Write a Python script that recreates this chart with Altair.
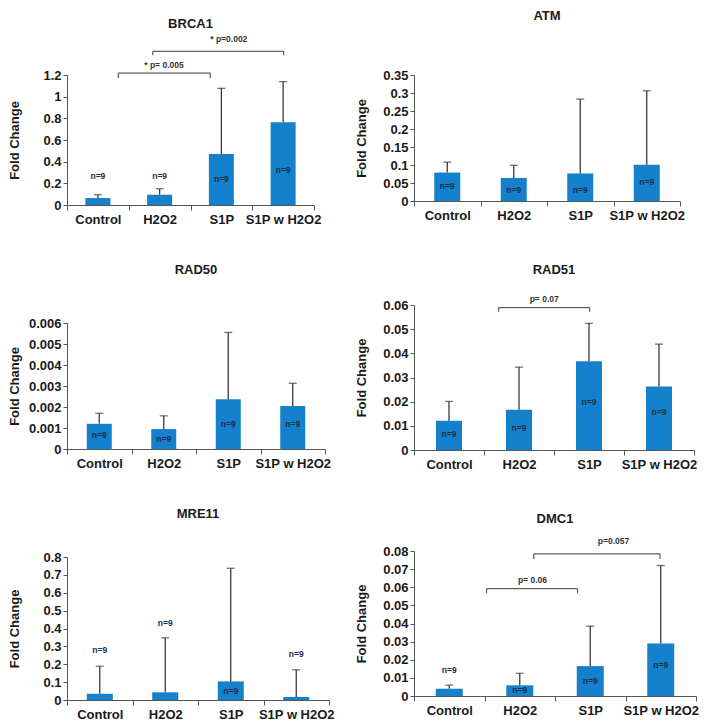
import altair as alt
import pandas as pd

categories = ["Control", "H2O2", "S1P", "S1P w H2O2"]
n_labels = ["n=9", "n=9", "n=9", "n=9"]

# ---- BRCA1
brca1_mean = [0.064, 0.095, 0.47, 0.764]
brca1_upper = [0.095, 0.15, 1.077, 1.139]
brca1_n_y = [0.267, 0.267, 0.237, 0.325]
brca1_ticks = [0, 0.2, 0.4, 0.6, 0.8, 1, 1.2]
brca1_br_start = [0.83, 1.39]
brca1_br_end = [2.32, 3.51]
brca1_br_level = [1.218, 1.419]
brca1_br_leg = [1.172, 1.382]
brca1_p_x = [1.57, 2.62]
brca1_p_y = [1.29, 1.535]
brca1_p_text = ["* p= 0.005", "* p=0.002"]

# ---- ATM
atm_mean = [0.079, 0.064, 0.0765, 0.101]
atm_upper = [0.108, 0.099, 0.283, 0.306]
atm_n_y = [0.042, 0.031, 0.031, 0.053]
atm_ticks = [0, 0.05, 0.1, 0.15, 0.2, 0.25, 0.3, 0.35]

# ---- RAD50
rad50_mean = [0.0012, 0.00095, 0.00237, 0.00205]
rad50_upper = [0.0017, 0.00158, 0.00555, 0.00313]
rad50_n_y = [0.00068, 0.00047, 0.00118, 0.00118]
rad50_ticks = [0, 0.001, 0.002, 0.003, 0.004, 0.005, 0.006]

# ---- RAD51
rad51_mean = [0.0121, 0.0167, 0.0367, 0.0263]
rad51_upper = [0.0201, 0.0343, 0.0524, 0.0438]
rad51_n_y = [0.0068, 0.0093, 0.0197, 0.0156]
rad51_ticks = [0, 0.01, 0.02, 0.03, 0.04, 0.05, 0.06]
rad51_br_start = [1.21]
rad51_br_end = [2.51]
rad51_br_level = [0.0589]
rad51_br_leg = [0.0572]
rad51_p_x = [1.86]
rad51_p_y = [0.0624]
rad51_p_text = ["p= 0.07"]

# ---- MRE11
mre11_mean = [0.035, 0.043, 0.104, 0.017]
mre11_upper = [0.189, 0.348, 0.737, 0.169]
mre11_n_y = [0.281, 0.431, 0.052, 0.259]
mre11_ticks = [0, 0.1, 0.2, 0.3, 0.4, 0.5, 0.6, 0.7, 0.8]

# ---- DMC1
dmc1_mean = [0.004, 0.0059, 0.0165, 0.029]
dmc1_upper = [0.006, 0.0125, 0.0385, 0.072]
dmc1_n_y = [0.0143, 0.0033, 0.0082, 0.017]
dmc1_ticks = [0, 0.01, 0.02, 0.03, 0.04, 0.05, 0.06, 0.07, 0.08]
dmc1_br_start = [1.03, 1.70]
dmc1_br_end = [2.32, 3.49]
dmc1_br_level = [0.0592, 0.0784]
dmc1_br_leg = [0.0568, 0.0756]
dmc1_p_x = [1.68, 2.83]
dmc1_p_y = [0.0641, 0.0855]
dmc1_p_text = ["p= 0.06", "p=0.057"]

BLUE = "#1580CC"
DARK = "#1a1a1a"
LINE = "#3a3a3a"
AXIS = "#555555"


def panel(gene, mean, upper, n_y, ticks, width, height, bar_size, title_offset,
          br_start=None, br_end=None, br_level=None, br_leg=None,
          p_x=None, p_y=None, p_text=None):
    df = pd.DataFrame({"group": categories, "mean": mean, "upper": upper,
                       "n_y": n_y, "n": n_labels})
    dom = [ticks[0], ticks[-1]]
    yaxis = alt.Axis(values=ticks, format="~g", title="Fold Change",
                     titleFontSize=13, titleFontWeight="bold", titleColor=DARK,
                     titlePadding=4, labelFontSize=13, labelFontWeight="bold",
                     labelColor=DARK, labelPadding=2, tickSize=4, grid=False,
                     minExtent=42, maxExtent=42, domainColor=AXIS, tickColor=AXIS)
    yscale = alt.Scale(domain=dom, nice=False, zero=True)

    def Y(f):
        return alt.Y(f"{f}:Q", scale=yscale, axis=yaxis)

    xaxis = alt.Axis(title=None, labelAngle=0, tickBand="extent", tickSize=5,
                     labelFontSize=13, labelFontWeight="bold", labelColor=DARK,
                     labelPadding=3, domainColor=AXIS, tickColor=AXIS,
                     labelOverlap=False, grid=False)
    X = alt.X("group:N", sort=categories,
              scale=alt.Scale(paddingInner=0, paddingOuter=0), axis=xaxis)

    base = alt.Chart(df)
    bars = base.mark_bar(size=bar_size, color=BLUE).encode(x=X, y=Y("mean"))
    err = base.mark_rule(color=LINE, strokeWidth=1.3).encode(
        x=X, y=Y("mean"), y2="upper:Q")
    caps = base.mark_tick(color=LINE, size=8, thickness=1.3,
                          orient="horizontal").encode(x=X, y=Y("upper"))
    ntext = base.mark_text(fontSize=8.5, fontWeight="bold", color="#1c2e4a").encode(
        x=X, y=Y("n_y"), text="n:N")
    inner = alt.layer(bars, err, caps, ntext)

    if br_start:
        bdf = pd.DataFrame({"start": br_start, "end": br_end, "level": br_level,
                            "leg": br_leg, "px": p_x, "py": p_y, "ptext": p_text})
        ldf = pd.DataFrame({"pos": br_start + br_end,
                            "level": br_level + br_level,
                            "leg": br_leg + br_leg})
        xq = alt.Scale(domain=[0, 4], nice=False, zero=False)

        def Xq(f):
            return alt.X(f"{f}:Q", scale=xq, axis=None)

        hline = alt.Chart(bdf).mark_rule(color=LINE, strokeWidth=1).encode(
            x=Xq("start"), x2="end:Q", y=Y("level"))
        legs = alt.Chart(ldf).mark_rule(color=LINE, strokeWidth=1).encode(
            x=Xq("pos"), y=Y("level"), y2="leg:Q")
        ptext = alt.Chart(bdf).mark_text(fontSize=8.5, fontWeight="bold",
                                         color="#333333").encode(
            x=Xq("px"), y=Y("py"), text="ptext:N")
        chart = alt.layer(inner, alt.layer(hline, legs, ptext)).resolve_scale(
            x="independent")
    else:
        chart = inner

    return chart.properties(
        width=width, height=height,
        title=alt.Title(gene, fontSize=13, fontWeight="bold", color=DARK,
                        offset=title_offset, frame="group", anchor="middle"))


p_brca1 = panel("BRCA1", brca1_mean, brca1_upper, brca1_n_y, brca1_ticks,
                247, 130, 25, 4, brca1_br_start, brca1_br_end, brca1_br_level,
                brca1_br_leg, brca1_p_x, brca1_p_y, brca1_p_text)
p_atm = panel("ATM", atm_mean, atm_upper, atm_n_y, atm_ticks,
              266, 126, 26, 46)
p_rad50 = panel("RAD50", rad50_mean, rad50_upper, rad50_n_y, rad50_ticks,
                258, 126, 25, 40)
p_rad51 = panel("RAD51", rad51_mean, rad51_upper, rad51_n_y, rad51_ticks,
                280, 145, 26, 18.5, rad51_br_start, rad51_br_end, rad51_br_level,
                rad51_br_leg, rad51_p_x, rad51_p_y, rad51_p_text)
p_mre11 = panel("MRE11", mre11_mean, mre11_upper, mre11_n_y, mre11_ticks,
                262, 143, 26, 30)
p_dmc1 = panel("DMC1", dmc1_mean, dmc1_upper, dmc1_n_y, dmc1_ticks,
               282, 145, 27, 11.5, dmc1_br_start, dmc1_br_end, dmc1_br_level,
               dmc1_br_leg, dmc1_p_x, dmc1_p_y, dmc1_p_text)

left_col = alt.vconcat(p_brca1, p_rad50, p_mre11, spacing=38)
right_col = alt.vconcat(p_atm, p_rad51, p_dmc1, spacing=41)

chart = alt.hconcat(left_col, right_col, spacing=20).properties(
    padding={"top": 2, "bottom": 0, "left": 0, "right": 0}
).configure(font="Liberation Sans").configure_view(stroke=None)

chart.save("out.html", embed_options={"renderer": "svg", "actions": False})
